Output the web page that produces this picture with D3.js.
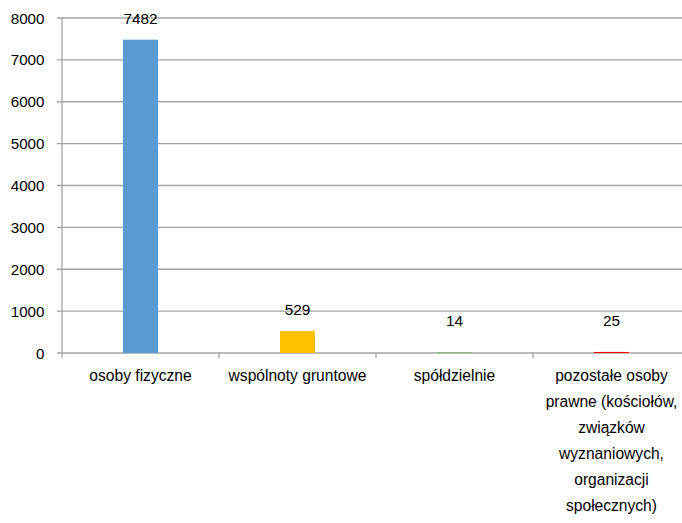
<!DOCTYPE html>
<html>
<head>
<meta charset="utf-8">
<script src="https://cdn.jsdelivr.net/npm/d3@7"></script>
<style>
  body { margin: 0; background: #fff; }
  svg { display: block; font-family: "Liberation Sans", Arial, sans-serif; }
</style>
</head>
<body>
<svg id="chart" width="682" height="523"></svg>
<script>
// data
const categories = [
    ['osoby fizyczne'],
    ['wspólnoty gruntowe'],
    ['spółdzielnie'],
    ['pozostałe osoby', 'prawne (kościołów,', 'związków', 'wyznaniowych,', 'organizacji', 'społecznych)']
]
const values = [7482, 529, 14, 25]
const colors = ['#5b9bd5', '#ffc000', '#70ad47', '#ff0000']
const yTicks = [0, 1000, 2000, 3000, 4000, 5000, 6000, 7000, 8000]

const svg = d3.select('#chart')
const plotLeft = 62, plotRight = 690, plotTop = 18, plotBottom = 353

const x = d3.scaleBand().domain(d3.range(values.length)).range([plotLeft, plotRight])
const y = d3.scaleLinear().domain([0, 8000]).range([plotBottom, plotTop])

// gridlines
svg.append('g')
    .selectAll('line')
    .data(yTicks)
    .enter()
    .append('line')
    .attr('x1', plotLeft - 5)
    .attr('x2', 682)
    .attr('y1', d => y(d))
    .attr('y2', d => y(d))
    .attr('stroke', '#a3a3a3')
    .attr('stroke-width', 1.3)

// y tick labels
svg.append('g')
    .selectAll('text')
    .data(yTicks)
    .enter()
    .append('text')
    .attr('x', 44.5)
    .attr('y', d => y(d) + 5.5)
    .attr('text-anchor', 'end')
    .attr('font-size', 15.2)
    .attr('fill', '#000')
    .text(d => d)

// y axis line
svg.append('line')
    .attr('x1', plotLeft).attr('x2', plotLeft)
    .attr('y1', y(8000)).attr('y2', plotBottom)
    .attr('stroke', '#a3a3a3')
    .attr('stroke-width', 1.3)

// category separators
svg.append('g')
    .selectAll('line')
    .data(d3.range(values.length))
    .enter()
    .append('line')
    .attr('x1', d => x(d))
    .attr('x2', d => x(d))
    .attr('y1', plotBottom)
    .attr('y2', plotBottom + 5)
    .attr('stroke', '#a3a3a3')
    .attr('stroke-width', 1.3)

const barW = 35
svg.append('g')
    .selectAll('rect')
    .data(values)
    .enter()
    .append('rect')
    .attr('x', (d, i) => x(i) + x.bandwidth() / 2 - barW / 2)
    .attr('y', d => y(d))
    .attr('width', barW)
    .attr('height', d => plotBottom - y(d))
    .attr('fill', (d, i) => colors[i])

// value labels
svg.append('g')
    .selectAll('text')
    .data(values)
    .enter()
    .append('text')
    .attr('x', (d, i) => x(i) + x.bandwidth() / 2)
    .attr('y', d => Math.min(y(d) - 15.5, 325.5))
    .attr('text-anchor', 'middle')
    .attr('font-size', 15.4)
    .attr('fill', '#000')
    .text(d => d)

// category labels
const catG = svg.append('g')
categories.forEach((lines, i) => {
    const t = catG.append('text')
        .attr('text-anchor', 'middle')
        .attr('font-size', 15.6)
        .attr('fill', '#000')
    lines.forEach((s, j) => {
        t.append('tspan')
            .attr('x', x(i) + x.bandwidth() / 2)
            .attr('y', 380.5 + j * 26)
            .text(s)
    })
})
</script>
</body>
</html>
